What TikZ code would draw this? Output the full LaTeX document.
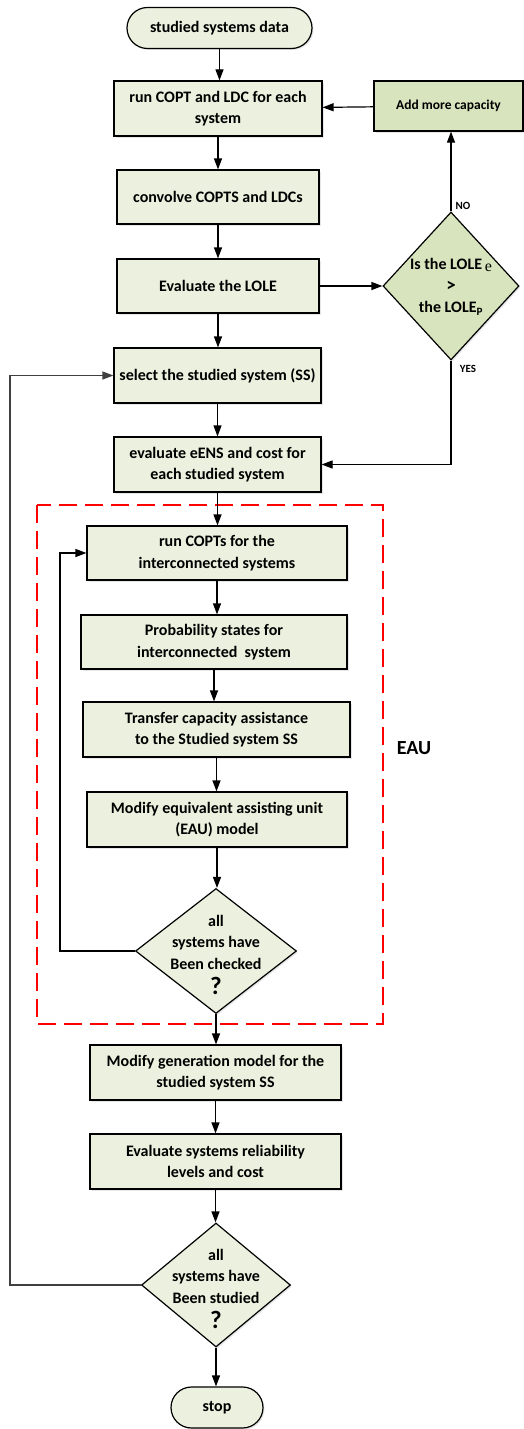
\documentclass[tikz,border=0pt]{standalone}
\usepackage{fontspec}
\setmainfont{Carlito}
\newfontfamily\lolefont{Liberation Serif}
\usetikzlibrary{shapes.geometric,arrows.meta,shadows}
\definecolor{boxgreen}{HTML}{EBF1DE}
\definecolor{deepgreen}{HTML}{D7E4BD}
\newcommand{\boxfont}{\fontsize{16}{21.5}\selectfont\bfseries}
\tikzset{
  procbox/.style={draw, fill=boxgreen, line width=1.2pt, minimum height=55pt, inner sep=0pt,
    align=center, font=\boxfont, drop shadow={shadow xshift=1.5pt, shadow yshift=-1.5pt, opacity=0.2}},
  termbox/.style={procbox, minimum height=41pt, rounded corners=20.5pt},
  decbox/.style={draw, fill=boxgreen, line width=1.2pt, diamond, inner sep=0pt,
    drop shadow={shadow xshift=1.5pt, shadow yshift=-1.5pt, opacity=0.2}},
  dectext/.style={align=center, font=\boxfont, inner sep=0pt},
  flow/.style={line width=1.2pt, -{Triangle[length=11pt,width=8pt]}},
  eaubox/.style={draw=red, line width=2pt, dash pattern=on 18pt off 8pt},
  smalllbl/.style={font=\fontsize{11}{13}\selectfont\bfseries, inner sep=0pt}
}
\begin{document}
\begin{tikzpicture}[x=1pt,y=-1pt]

    \useasboundingbox (0,0) rectangle (524,1429);

    \node [termbox, minimum width=185pt] (start) at (219.5,28) {studied systems data};
    \node [procbox, minimum width=208pt] (copt) at (218,108.5) {run COPT and LDC for each\\system};
    \node [procbox, minimum width=202pt, minimum height=54pt] (convolve) at (218,197) {convolve COPTS and LDCs};
    \node [procbox, minimum width=202pt, minimum height=54pt] (evallole) at (218,286) {Evaluate the LOLE};
    \node [procbox, fill=deepgreen, minimum width=149pt, minimum height=50pt,
           font=\fontsize{13.5}{16}\selectfont\bfseries] (addcap) at (448.5,106) {Add more capacity};

    \node [decbox, fill=deepgreen, minimum width=136pt, minimum height=148pt] (lolecheck) at (451,286) {};
    \node [dectext] (lolecheck text) at (451,287) {Is the LOLE\,\raisebox{-1.5pt}{\lolefont\mdseries e}\\{\fontsize{19}{19}\selectfont >}\\the LOLE\textsubscript{P}};
    \node [smalllbl] (nolbl) at (463,206) {NO};
    \node [smalllbl] (yeslbl) at (468,369) {YES};

    \node [procbox, minimum width=207pt] (select) at (217.5,375.5) {select the studied system (SS)};
    \node [procbox, minimum width=207pt] (eens) at (217.5,464.5) {evaluate eENS and cost for\\each studied system};

    \draw [eaubox] (37,505) rectangle (383,1024);
    \node [font=\fontsize{20}{22}\selectfont\bfseries] (eaulbl) at (414,748) {EAU};

    \node [procbox, minimum width=260pt, minimum height=54pt] (runcopts) at (217,553) {run COPTs for the\\interconnected systems};
    \node [procbox, minimum width=266pt, minimum height=54pt] (prob) at (214,642) {Probability states for\\interconnected\ \ system};
    \node [procbox, minimum width=267pt] (transfer) at (216.5,729.5) {Transfer capacity assistance\\to the Studied system SS};
    \node [procbox, minimum width=260pt] (modeau) at (217,819.5) {Modify equivalent assisting unit\\(EAU) model};

    \node [decbox, minimum width=161pt, minimum height=125pt] (checked) at (216,951) {};
    \node [dectext] (checked text) at (216,955) {all\\systems have\\Been checked\\[4pt]{\fontsize{25}{25}\selectfont ?}};

    \node [procbox, minimum width=251pt] (modgen) at (215.5,1072.5) {Modify generation model for the\\studied system SS};
    \node [procbox, minimum width=251pt] (evalrel) at (215.5,1161.5) {Evaluate systems reliability\\levels and cost};

    \node [decbox, minimum width=149pt, minimum height=124pt] (studied) at (216,1285) {};
    \node [dectext] (studied text) at (216,1289) {all\\systems have\\Been studied\\[4pt]{\fontsize{25}{25}\selectfont ?}};

    \node [termbox, minimum width=92pt] (stop) at (217,1407.5) {stop};

    \coordinate (innerloop) at (60,0);
    \coordinate (outerloop) at (10,0);

    \draw [flow] (start) -- (start |- copt.north);
    \draw [flow] (copt) -- (copt |- convolve.north);
    \draw [flow] (convolve) -- (convolve |- evallole.north);
    \draw [flow] (evallole) -- (lolecheck.west);
    \draw [flow] (lolecheck.north) -- (lolecheck.north |- addcap.south);
    \draw [flow] (addcap) -- (copt);
    \draw [flow] (evallole) -- (evallole |- select.north);
    \draw [flow] (select) -- (select |- eens.north);
    \draw [flow] (lolecheck.south) |- (eens.east);
    \draw [flow] (eens) -- (eens |- runcopts.north);
    \draw [flow] (runcopts) -- (runcopts |- prob.north);
    \draw [flow] (prob) -- (prob |- transfer.north);
    \draw [flow] (transfer) -- (transfer |- modeau.north);
    \draw [flow] (modeau) -- (modeau |- checked.north);
    \draw [flow] (checked.west) -- (checked.west -| innerloop) |- (runcopts.west);
    \draw [flow] (checked.south) -- (checked.south |- modgen.north);
    \draw [flow] (modgen) -- (modgen |- evalrel.north);
    \draw [flow] (evalrel) -- (evalrel |- studied.north);
    \draw [flow, draw=black!75] (studied.west) -- (studied.west -| outerloop) |- (select.west);
    \draw [flow] (studied.south) -- (studied.south |- stop.north);

\end{tikzpicture}
\end{document}
